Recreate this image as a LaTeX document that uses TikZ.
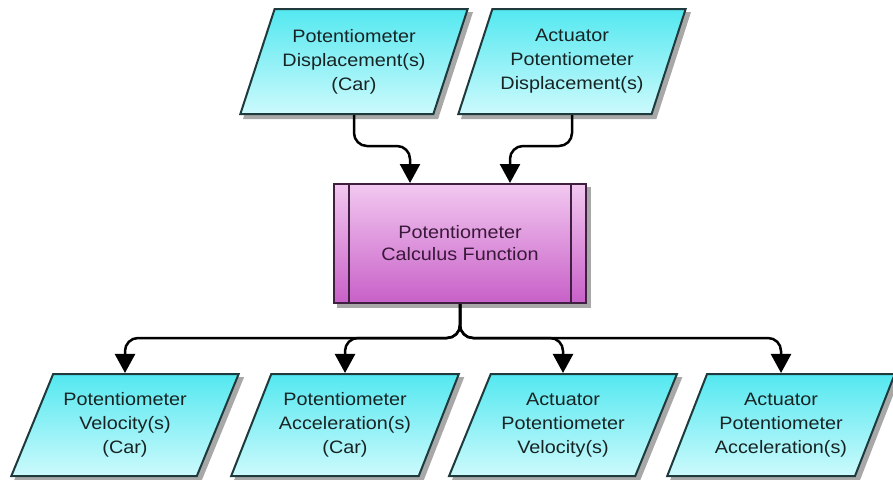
\documentclass[tikz,border=0pt]{standalone}
\usepackage{fontspec}
\setmainfont{Liberation Sans}[FakeStretch=1.1]
\usetikzlibrary{shapes.geometric,arrows.meta,calc,backgrounds}

\definecolor{cyantop}{RGB}{84,232,240}
\definecolor{cyanbot}{RGB}{204,250,252}
\definecolor{cyanedge}{RGB}{30,58,60}
\definecolor{magtop}{RGB}{242,200,240}
\definecolor{magbot}{RGB}{200,96,200}
\definecolor{magedge}{RGB}{64,32,64}
\definecolor{magtext}{RGB}{58,24,58}
\definecolor{shadowgray}{RGB}{168,168,168}
\definecolor{inktext}{RGB}{24,36,36}

\tikzset{
  datashape/.style={
    trapezium, trapezium stretches=true,
    trapezium left angle=#1, trapezium right angle=180-#1,
    minimum width=228pt, inner sep=0pt, align=center,
    draw=cyanedge, line width=2pt,
    top color=cyantop, bottom color=cyanbot,
    text=inktext,
    font=\fontsize{18}{24}\selectfont
  },
  procbox/.style={
    rectangle, minimum width=252pt, minimum height=119pt,
    inner sep=0pt, align=center,
    draw=magedge, line width=2pt,
    top color=magtop, bottom color=magbot,
    text=magtext,
    font=\fontsize{18}{22}\selectfont
  },
  shadowfill/.style={fill=shadowgray, draw=none},
  conn/.style={
    draw=black, line width=2.5pt, rounded corners=13pt,
    -{Triangle[length=19pt,width=20pt]}
  }
}

\begin{document}
\begin{tikzpicture}[x=1pt,y=-1pt]
  \useasboundingbox (0,0) rectangle (893,479);

  % inputs
  \node[datashape=64.5, minimum height=105pt] (in1) at (354,61.5)
    {Potentiometer\\Displacement(s)\\(Car)};
  \node[datashape=64.5, minimum height=105pt] (in2) at (572,61.5)
    {Actuator\\Potentiometer\\Displacement(s)};

  % process
  \node[procbox] (calc) at (460,243.5) {Potentiometer\\Calculus Function};
  \draw[magedge, line width=2pt]
    ([xshift=16pt]calc.north west) -- ([xshift=16pt]calc.south west)
    ([xshift=-16pt]calc.north east) -- ([xshift=-16pt]calc.south east);

  % outputs
  \node[datashape=61, minimum height=102pt] (out1) at (125,425)
    {Potentiometer\\Velocity(s)\\(Car)};
  \node[datashape=61, minimum height=102pt] (out2) at (345,425)
    {Potentiometer\\Acceleration(s)\\(Car)};
  \node[datashape=61, minimum height=102pt] (out3) at (563,425)
    {Actuator\\Potentiometer\\Velocity(s)};
  \node[datashape=61, minimum height=102pt] (out4) at (781,425)
    {Actuator\\Potentiometer\\Acceleration(s)};

  % drop shadows, offset down and to the right
  \begin{scope}[on background layer]
    \foreach \n in {in1,in2,out1,out2,out3,out4}
      \fill[shadowfill]
        ($(\n.top left corner)+(4,4)$) -- ($(\n.top right corner)+(4,4)$) --
        ($(\n.bottom right corner)+(4,4)$) -- ($(\n.bottom left corner)+(4,4)$) -- cycle;
    \fill[shadowfill] ($(calc.north west)+(4,4)$) rectangle ($(calc.south east)+(4,4)$);
  \end{scope}

  % inputs into the process
  \coordinate (inL) at ([xshift=-50pt]calc.north);
  \coordinate (inR) at ([xshift=50pt]calc.north);
  \draw[conn] (in1.south) |- ($(inL)+(0,-37)$) -- (inL);
  \draw[conn] (in2.south) |- ($(inR)+(0,-37)$) -- (inR);

  % process out to the bus
  \coordinate (bus) at ($(calc.south)+(0,34)$);
  \draw[conn] (calc.south) -- (bus) -| (out1.north);
  \draw[conn] (calc.south) -- (bus) -| (out2.north);
  \draw[conn] (calc.south) -- (bus) -| (out3.north);
  \draw[conn] (calc.south) -- (bus) -| (out4.north);
\end{tikzpicture}
\end{document}
